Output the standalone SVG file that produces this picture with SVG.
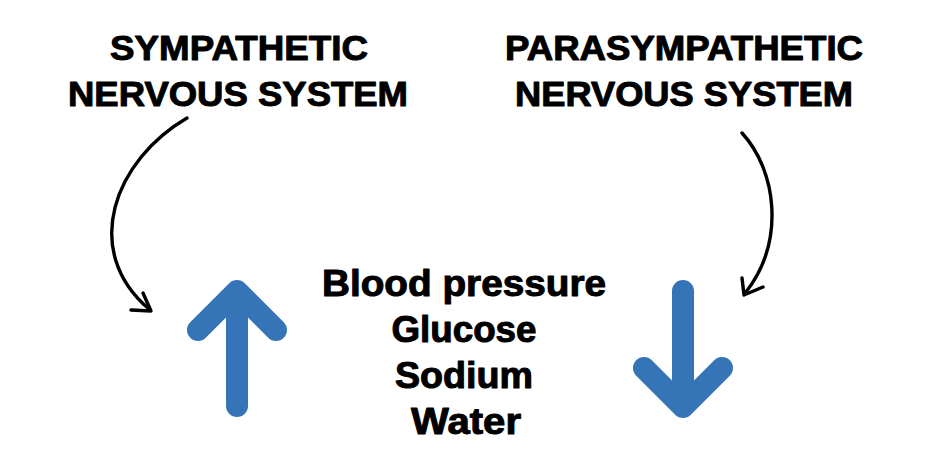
<svg xmlns="http://www.w3.org/2000/svg" width="950" height="452" viewBox="0 0 950 452">
<style>
.t{font-family:"Liberation Sans",Arial,sans-serif;font-weight:bold;fill:#000;stroke:#000;stroke-width:1;stroke-linejoin:round;text-anchor:middle}
.title{font-size:35px}
.item{font-size:36px}
.blue{fill:none;stroke:#3574b6;stroke-width:22;stroke-linecap:round;stroke-linejoin:round}
.curve{fill:none;stroke:#000;stroke-width:3.4;stroke-linecap:round;stroke-linejoin:round}
</style>
<rect width="950" height="452" fill="#fff"/>
<g id="sympathetic">
<text class="t title" x="239" y="60" textLength="258" lengthAdjust="spacingAndGlyphs">SYMPATHETIC</text>
<text class="t title" x="238" y="106" textLength="340" lengthAdjust="spacingAndGlyphs">NERVOUS SYSTEM</text>
</g>
<g id="parasympathetic">
<text class="t title" x="684" y="60" textLength="358" lengthAdjust="spacingAndGlyphs">PARASYMPATHETIC</text>
<text class="t title" x="684" y="106" textLength="338" lengthAdjust="spacingAndGlyphs">NERVOUS SYSTEM</text>
</g>
<g id="factors">
<text class="t item" x="464" y="296" textLength="284" lengthAdjust="spacingAndGlyphs">Blood pressure</text>
<text class="t item" x="464" y="342" textLength="145" lengthAdjust="spacingAndGlyphs">Glucose</text>
<text class="t item" x="464" y="388" textLength="138" lengthAdjust="spacingAndGlyphs">Sodium</text>
<text class="t item" x="466" y="434" textLength="110" lengthAdjust="spacingAndGlyphs">Water</text>
</g>
<g id="up-arrow">
<path class="blue" d="M237,296 V406 M198,330 L237,291 L276,330"/>
</g>
<g id="down-arrow">
<path class="blue" d="M683,291 V400 M644,368 L683,407 L722,368"/>
</g>
<g id="connectors">
<path class="curve" d="M187,118 C115,160 80,250 149,309"/>
<path class="curve" d="M143,293 L151,311 L131,310"/>
<path class="curve" d="M742,133 C776,170 786,240 746,292"/>
<path class="curve" d="M742,278 L744,295 L763,287"/>
</g>
</svg>
